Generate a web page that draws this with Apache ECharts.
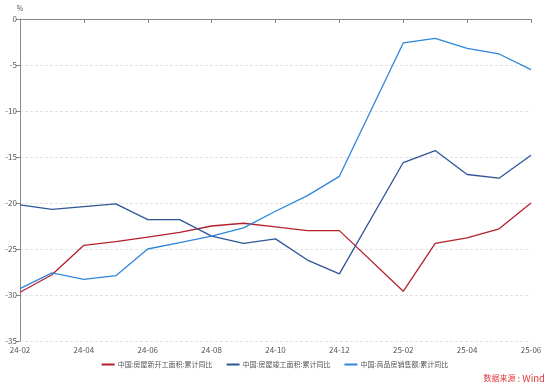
<!DOCTYPE html>
<html><head><meta charset="utf-8">
<script src="https://cdn.jsdelivr.net/npm/echarts@6/dist/echarts.min.js"></script>
<style>html,body{margin:0;padding:0;background:#fff}#c{width:550px;height:385px}</style>
</head><body><div id="c"></div>
<script>
const months = ['24-02','24-03','24-04','24-05','24-06','24-07','24-08','24-09','24-10','24-11','24-12','25-01','25-02','25-03','25-04','25-05','25-06'];
const newStarts = [-29.7,-27.8,-24.6,-24.2,-23.7,-23.2,-22.5,-22.2,-22.6,-23.0,-23.0,null,-29.6,-24.4,-23.8,-22.8,-20.0];
const completions = [-20.2,-20.7,-20.4,-20.1,-21.8,-21.8,-23.6,-24.4,-23.9,-26.2,-27.7,null,-15.6,-14.3,-16.9,-17.3,-14.8];
const salesValue = [-29.3,-27.6,-28.3,-27.9,-25.0,-24.3,-23.6,-22.7,-20.9,-19.2,-17.1,null,-2.6,-2.1,-3.2,-3.8,-5.5];
const seriesNames = ['中国:房屋新开工面积:累计同比','中国:房屋竣工面积:累计同比','中国:商品房销售额:累计同比'];
const colors = ['#b5202e','#2f5597','#2e86d9'];
const yTicks = {min:-35, max:0, interval:5};

const chart = echarts.init(document.getElementById('c'), null, {renderer:'canvas'});
const font = "'Microsoft YaHei','Noto Sans CJK SC',sans-serif";
chart.setOption({
  animation:false,
  textStyle:{fontFamily:font},
  grid:{left:20,right:19,top:19,bottom:44,containLabel:false},
  legend:{
    data:seriesNames, bottom:12, left:'center', itemWidth:13, itemHeight:2, itemGap:14,
    icon:'rect',
    textStyle:{fontSize:7, color:'#555', fontFamily:font, padding:[0,0,0,-2]}
  },
  xAxis:{
    type:'category', data:months, boundaryGap:false,
    axisLine:{lineStyle:{color:'#888'}},
    axisTick:{interval:1, length:4, lineStyle:{color:'#888'}},
    axisLabel:{interval:1, fontSize:8, color:'#555', margin:5, fontFamily:font}
  },
  yAxis:{
    type:'value', min:yTicks.min, max:yTicks.max, interval:yTicks.interval,
    name:'%', nameGap:7, nameTextStyle:{fontSize:7, color:'#555', align:'center'},
    axisLine:{show:true, lineStyle:{color:'#888'}},
    axisTick:{show:true, length:4, lineStyle:{color:'#888'}},
    axisLabel:{fontSize:8, color:'#555', margin:3, fontFamily:font},
    splitLine:{lineStyle:{color:'#e3e3e3', type:[3,2]}}
  },
  series:[newStarts, completions, salesValue].map((d,i)=>({
    name:seriesNames[i], type:'line', data:d, connectNulls:true, showSymbol:false,
    symbol:'none', lineStyle:{width:1.3, color:colors[i]}, itemStyle:{color:colors[i]}
  })),
  graphic:[{
    type:'text', right:5, bottom:2,
    style:{text:'{a|数据来源}{b| : Wind}', fontFamily:font, fill:'#e0393e',
      rich:{a:{fontSize:8, fill:'#e0393e', fontFamily:font}, b:{fontSize:9.5, fill:'#e0393e', fontFamily:font}}}
  }]
});
</script></body></html>
